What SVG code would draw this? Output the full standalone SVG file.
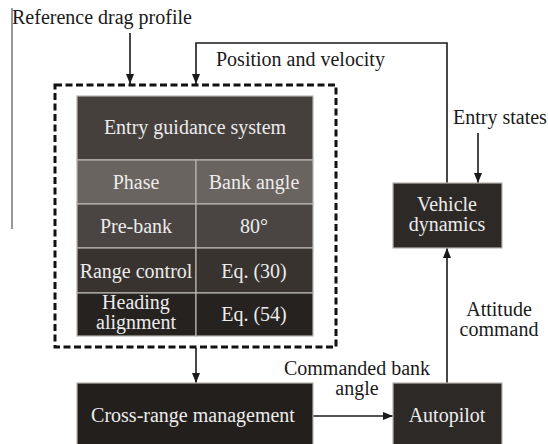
<svg xmlns="http://www.w3.org/2000/svg" width="548" height="444" viewBox="0 0 548 444">
<defs>
<marker id="ah" markerWidth="10" markerHeight="8" refX="10" refY="4" orient="auto" markerUnits="userSpaceOnUse">
<path d="M0,0 L10,4 L0,8 Z" fill="#1a1a1a"/>
</marker>
<style>
text{font-family:"Liberation Serif","Times New Roman",serif;font-size:20px;}
.lbl{fill:#1a1a1a;}
.w{fill:#ececec;text-anchor:middle;}
.ln{stroke:#1a1a1a;stroke-width:1.6;fill:none;}
.cell{stroke:#b8b4b0;stroke-width:1.2;}
</style>
</defs>
<rect width="548" height="444" fill="#ffffff"/>
<g id="labels">
<text class="lbl" x="12" y="24">Reference drag profile</text>
<text class="lbl" x="216" y="66">Position and velocity</text>
<text class="lbl" x="453" y="124">Entry states</text>
<text class="lbl" x="357" y="375" text-anchor="middle">Commanded bank</text>
<text class="lbl" x="357" y="395" text-anchor="middle">angle</text>
<text class="lbl" x="499" y="316" text-anchor="middle">Attitude</text>
<text class="lbl" x="499" y="336" text-anchor="middle">command</text>
</g>
<g id="connectors">
<line x1="12" y1="8" x2="12" y2="229" stroke="#333" stroke-width="1"/>
<line class="ln" x1="130" y1="33" x2="130" y2="84" marker-end="url(#ah)"/>
<polyline class="ln" points="447,183 447,43 196,43 196,84" marker-end="url(#ah)"/>
<line class="ln" x1="478" y1="133" x2="478" y2="183" marker-end="url(#ah)"/>
<line class="ln" x1="196" y1="348" x2="196" y2="383" marker-end="url(#ah)"/>
<line class="ln" x1="313" y1="416" x2="393" y2="416" marker-end="url(#ah)"/>
<line class="ln" x1="447" y1="383" x2="447" y2="248" marker-end="url(#ah)"/>
</g>
<g id="guidance">
<rect x="55" y="85" width="281" height="262" fill="none" stroke="#111" stroke-width="3" stroke-dasharray="7,3.5"/>
<rect class="cell" x="77" y="96" width="236" height="64" fill="#45403c"/>
<rect class="cell" x="77" y="160" width="119" height="44" fill="#6a6460"/>
<rect class="cell" x="196" y="160" width="117" height="44" fill="#6a6460"/>
<rect class="cell" x="77" y="204" width="119" height="44" fill="#4a4542"/>
<rect class="cell" x="196" y="204" width="117" height="44" fill="#4a4542"/>
<rect class="cell" x="77" y="248" width="119" height="45" fill="#38332f"/>
<rect class="cell" x="196" y="248" width="117" height="45" fill="#38332f"/>
<rect class="cell" x="77" y="293" width="119" height="43" fill="#262220"/>
<rect class="cell" x="196" y="293" width="117" height="43" fill="#262220"/>
<text class="w" x="195" y="134">Entry guidance system</text>
<text class="w" x="136" y="189">Phase</text>
<text class="w" x="254" y="189">Bank angle</text>
<text class="w" x="136" y="233">Pre-bank</text>
<text class="w" x="254" y="233">80°</text>
<text class="w" x="136" y="278">Range control</text>
<text class="w" x="254" y="278">Eq. (30)</text>
<text class="w" x="136" y="309">Heading</text>
<text class="w" x="136" y="329">alignment</text>
<text class="w" x="254" y="321">Eq. (54)</text>
</g>
<g id="cross-range">
<rect class="cell" x="77" y="383" width="236" height="64" fill="#231f1c"/>
<text class="w" x="193" y="422">Cross-range management</text>
</g>
<g id="vehicle">
<rect class="cell" x="393" y="183" width="109" height="65" fill="#2d2926"/>
<text class="w" x="447" y="211">Vehicle</text>
<text class="w" x="447" y="231">dynamics</text>
</g>
<g id="autopilot">
<rect class="cell" x="393" y="383" width="109" height="64" fill="#2d2926"/>
<text class="w" x="447" y="422">Autopilot</text>
</g>
</svg>
